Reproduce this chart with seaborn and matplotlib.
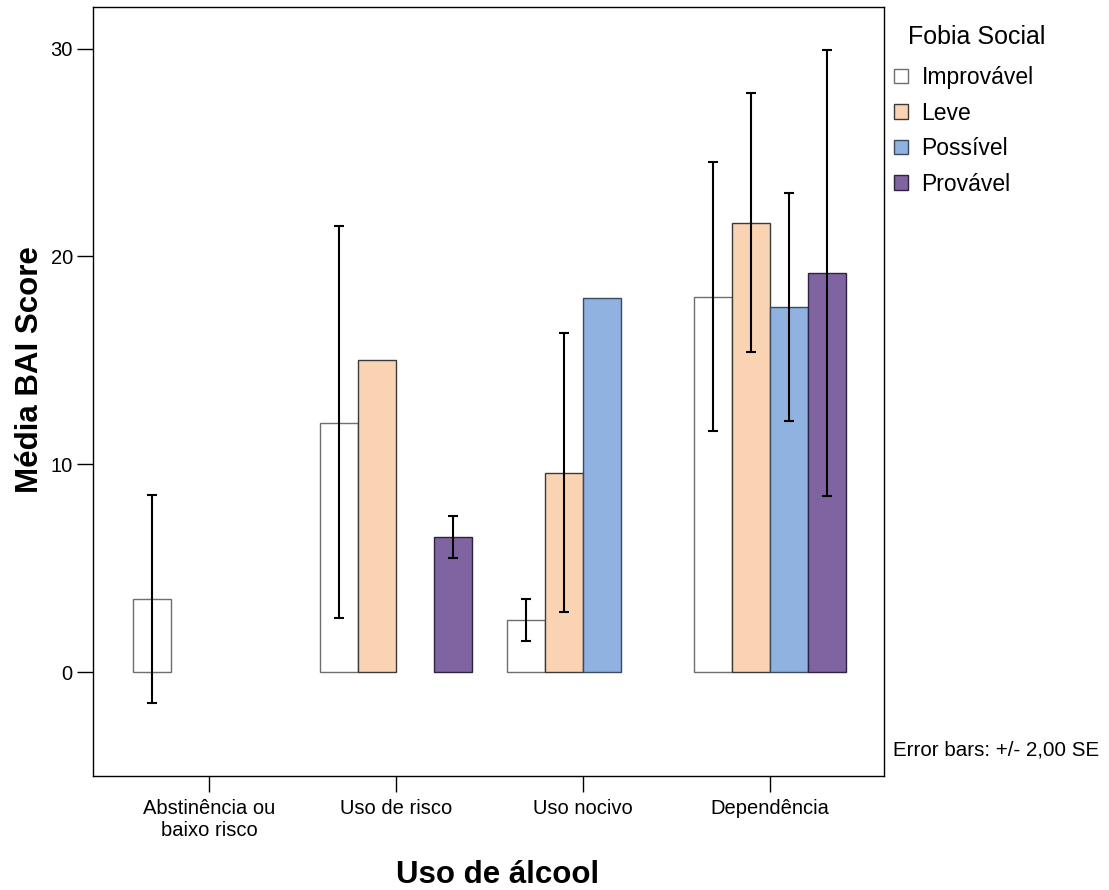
import numpy as np
import pandas as pd
import seaborn as sns
from matplotlib import pyplot as plt
from matplotlib.patches import Patch
from matplotlib.container import BarContainer

# values
uso = ["Abstinência ou\nbaixo risco", "Uso de risco", "Uso nocivo", "Dependência"]
fobia = ["Improvável", "Leve", "Possível", "Provável"]

row_uso = [0, 1, 1, 1, 2, 2, 2, 3, 3, 3, 3]
row_fobia = [0, 0, 1, 3, 0, 1, 2, 0, 1, 2, 3]
media = [3.5, 12.0, 15.0, 6.5, 2.5, 9.6, 18.0, 18.05, 21.6, 17.55, 19.2]
err_lo = [-1.47, 2.58, np.nan, 5.5, 1.5, 2.9, np.nan, 11.6, 15.4, 12.1, 8.45]
err_hi = [8.5, 21.45, np.nan, 7.5, 3.5, 16.3, np.nan, 24.55, 27.85, 23.05, 29.95]

colors = ["#ffffff", "#fad3b3", "#8fb2e0", "#8064a2"]
edges = ["#6e6e6e", "#3a3a3a", "#3a4a60", "#2e2240"]

df = pd.DataFrame({
    "uso": [uso[i] for i in row_uso],
    "fobia": [fobia[i] for i in row_fobia],
    "bai": media,
    "lo": err_lo,
    "hi": err_hi,
})

sns.set_theme(style="white")
plt.rcParams["font.family"] = ["Liberation Sans", "DejaVu Sans"]
plt.rcParams["axes.edgecolor"] = "black"
plt.rcParams["text.color"] = "black"
plt.rcParams["axes.labelcolor"] = "black"
plt.rcParams["xtick.color"] = "black"
plt.rcParams["ytick.color"] = "black"

fig = plt.figure(figsize=(11.09, 8.90), dpi=100)
ax = fig.add_axes([93 / 1109, 1 - 776 / 890, 791 / 1109, 769 / 890])

sns.barplot(data=df, x="uso", y="bai", hue="fobia", order=uso, hue_order=fobia,
            palette=colors, saturation=1, width=0.81, errorbar=None, linewidth=1,
            edgecolor="#333333", legend=False, ax=ax)

bar_conts = [c for c in ax.containers if isinstance(c, BarContainer)]

# edge colours per level + error bars (+/- 2 SE)
for k, cont in enumerate(bar_conts):
    for bar in cont:
        bar.set_edgecolor(edges[k])
        cx = bar.get_x() + bar.get_width() / 2
        ci = int(round(cx))
        sel = df[(df.uso == uso[ci]) & (df.fobia == fobia[k])]
        if len(sel) == 0 or np.isnan(sel.lo.iloc[0]):
            continue
        m, lo, hi = sel.bai.iloc[0], sel.lo.iloc[0], sel.hi.iloc[0]
        ax.errorbar(cx, m, yerr=[[m - lo], [hi - m]], fmt="none", ecolor="black",
                    elinewidth=1.5, capthick=1.5, capsize=3.6, zorder=5)

ax.set_xlim(-0.62, 3.61)
ax.set_ylim(-5, 32)
ax.set_yticks([0, 10, 20, 30])
ax.tick_params(axis="both", direction="out", length=11.5, width=1, color="black",
               labelcolor="black", labelsize=14.5, pad=3, left=True, bottom=True)
ax.tick_params(axis="x", pad=5)
for s in ax.spines.values():
    s.set_color("black")
    s.set_linewidth(1)

ax.set_xlabel("Uso de álcool", fontsize=22.5, fontweight="bold", va="center", color="black")
ax.xaxis.set_label_coords(0.511, -0.1287)
ax.set_ylabel("Média BAI Score", fontsize=22.5, fontweight="bold", va="center", color="black")
ax.yaxis.set_label_coords(-0.0797, 0.528)

handles = [Patch(facecolor=c, edgecolor=e, linewidth=1) for c, e in zip(colors, edges)]
leg = fig.legend(handles, fobia, loc="upper left",
                 bbox_to_anchor=(894 / 1109, 1 - 66 / 890), frameon=False,
                 fontsize=16.5, handlelength=0.6, handleheight=0.6,
                 handletextpad=0.6, labelspacing=0.55, borderpad=0, borderaxespad=0)
fig.text(908 / 1109, 1 - 37 / 890, "Fobia Social", fontsize=18, ha="left", va="center")

fig.text(893 / 1109, 1 - 750 / 890, "Error bars: +/- 2,00 SE", fontsize=14.8,
         ha="left", va="center")

fig.savefig("out.png", dpi=100)
